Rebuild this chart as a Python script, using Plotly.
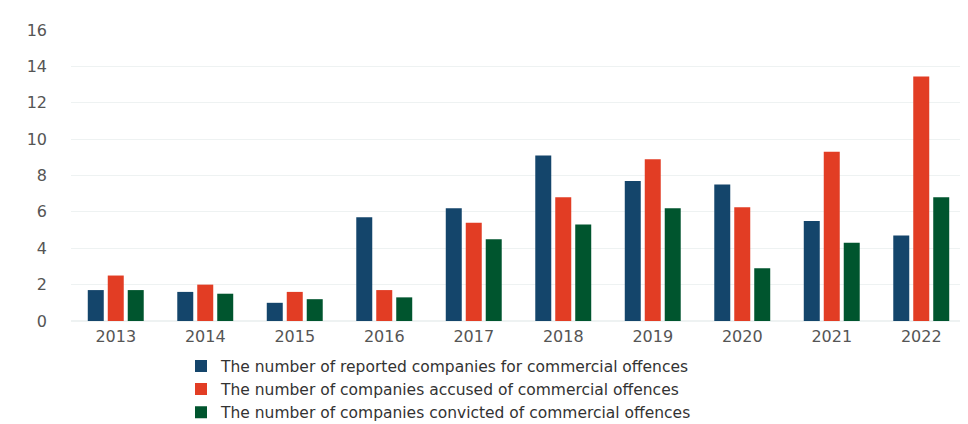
import plotly.graph_objects as go

years = ["2013", "2014", "2015", "2016", "2017", "2018", "2019", "2020", "2021", "2022"]
reported = [1.7, 1.6, 1.0, 5.7, 6.2, 9.1, 7.7, 7.5, 5.5, 4.7]
accused = [2.5, 2.0, 1.6, 1.7, 5.4, 6.8, 8.9, 6.25, 9.3, 13.45]
convicted = [1.7, 1.5, 1.2, 1.3, 4.5, 5.3, 6.2, 2.9, 4.3, 6.8]
y_ticks = [0, 2, 4, 6, 8, 10, 12, 14, 16]

names = [
    "The number of reported companies for commercial offences",
    "The number of companies accused of commercial offences",
    "The number of companies convicted of commercial offences",
]
colors = ["#14456b", "#e23d24", "#00552e"]

fig = go.Figure()
for name, vals, col in zip(names, [reported, accused, convicted], colors):
    fig.add_trace(go.Bar(x=years, y=vals, name=name, marker_color=col,
                         marker_line_width=0))

font_family = "DejaVu Sans"
fig.update_layout(
    width=968, height=424,
    margin=dict(l=63, r=10, t=22, b=111, autoexpand=False),
    paper_bgcolor="white", plot_bgcolor="white",
    barmode="group", bargap=0.33, bargroupgap=0.2,
    font=dict(family=font_family, size=14, color="#444"),
    showlegend=True,
    legend=dict(orientation="v", x=173 / 968, xref="container", xanchor="left",
                y=0.195, yref="container", yanchor="top",
                font=dict(family=font_family, size=15.5, color="#333"),
                itemwidth=30, tracegroupgap=0, bgcolor="rgba(0,0,0,0)"),
    xaxis=dict(showgrid=False, showline=False, ticks="", ticklabelstandoff=4,
               tickfont=dict(family=font_family, size=16, color="#555")),
    yaxis=dict(range=[0, 16], tickvals=y_ticks, showgrid=True, gridcolor="#eef2f2",
               gridwidth=1, zeroline=True, zerolinecolor="#eef2f2", showline=False,
               ticks="", ticklabelstandoff=23,
               tickfont=dict(family=font_family, size=16, color="#555")),
)
fig.write_html("out.html")
